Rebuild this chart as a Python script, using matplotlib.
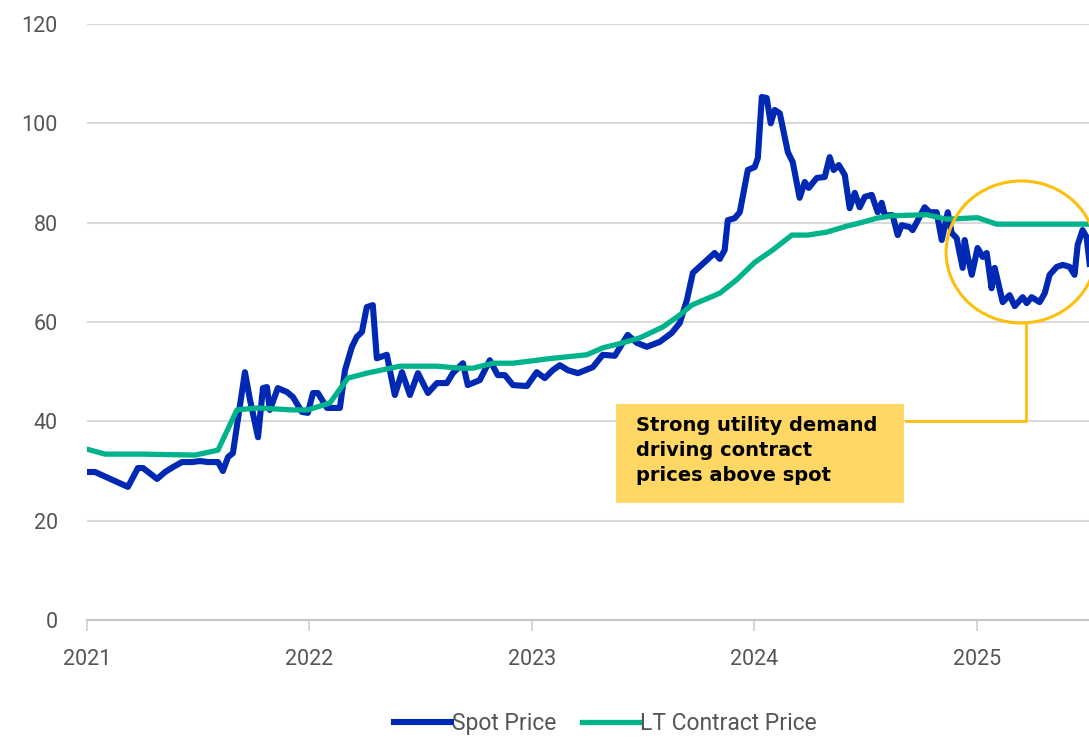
import matplotlib
matplotlib.use("Agg")
from matplotlib import pyplot as plt
from matplotlib.patches import Ellipse, Rectangle

# spot price, decimal year / USD per lb
spot_x = [2021.000, 2021.036, 2021.184, 2021.229, 2021.252, 2021.315, 2021.351, 2021.387, 2021.427, 2021.472,
          2021.508, 2021.544, 2021.589, 2021.611, 2021.634, 2021.656, 2021.710, 2021.733, 2021.769, 2021.791,
          2021.809, 2021.822, 2021.858, 2021.899, 2021.926, 2021.966, 2021.993, 2022.016, 2022.038, 2022.079,
          2022.137, 2022.160, 2022.191, 2022.213, 2022.236, 2022.258, 2022.285, 2022.303, 2022.348, 2022.384,
          2022.416, 2022.452, 2022.488, 2022.533, 2022.573, 2022.618, 2022.645, 2022.690, 2022.712, 2022.766,
          2022.811, 2022.847, 2022.879, 2022.915, 2022.978, 2023.022, 2023.058, 2023.094, 2023.126, 2023.162,
          2023.207, 2023.274, 2023.319, 2023.373, 2023.431, 2023.472, 2023.517, 2023.575, 2023.629, 2023.665,
          2023.697, 2023.724, 2023.822, 2023.845, 2023.867, 2023.881, 2023.912, 2023.935, 2023.971, 2024.002,
          2024.016, 2024.034, 2024.056, 2024.074, 2024.092, 2024.115, 2024.151, 2024.173, 2024.204, 2024.227,
          2024.245, 2024.281, 2024.317, 2024.339, 2024.357, 2024.380, 2024.407, 2024.429, 2024.452, 2024.474,
          2024.497, 2024.528, 2024.555, 2024.573, 2024.587, 2024.622, 2024.645, 2024.663, 2024.699, 2024.712,
          2024.766, 2024.789, 2024.820, 2024.843, 2024.870, 2024.888, 2024.910, 2024.937, 2024.946, 2024.960,
          2024.978, 2025.004, 2025.027, 2025.045, 2025.067, 2025.081, 2025.117, 2025.148, 2025.171, 2025.207,
          2025.225, 2025.247, 2025.283, 2025.306, 2025.328, 2025.360, 2025.387, 2025.418, 2025.440, 2025.454,
          2025.476, 2025.494, 2025.508]
spot_y = [29.8, 29.8, 26.8, 30.6, 30.6, 28.4, 29.8, 30.8, 31.8, 31.8,
          32.0, 31.8, 31.8, 30.0, 32.8, 33.6, 49.9, 44.3, 36.8, 46.7,
          46.9, 42.3, 46.7, 45.9, 44.9, 41.9, 41.7, 45.7, 45.7, 42.7,
          42.7, 50.3, 55.0, 57.0, 58.0, 63.0, 63.4, 52.7, 53.4, 45.3,
          49.9, 45.3, 49.7, 45.7, 47.7, 47.7, 49.7, 51.7, 47.3, 48.3,
          52.3, 49.3, 49.3, 47.3, 47.1, 49.9, 48.7, 50.3, 51.3, 50.3,
          49.7, 50.9, 53.4, 53.2, 57.4, 55.8, 55.0, 56.0, 57.8, 59.8,
          64.4, 69.9, 73.9, 72.7, 74.5, 80.5, 80.9, 82.1, 90.6, 91.2,
          93.0, 105.3, 105.1, 100.0, 102.7, 102.0, 94.2, 92.2, 85.0, 88.2,
          87.0, 89.0, 89.2, 93.2, 90.6, 91.6, 89.6, 82.9, 86.0, 83.1,
          85.2, 85.6, 82.1, 84.0, 81.5, 81.5, 77.5, 79.5, 79.1, 78.5,
          83.1, 82.1, 82.1, 76.5, 82.1, 77.9, 76.9, 70.9, 76.5, 73.1,
          69.5, 74.9, 73.1, 73.9, 66.8, 70.9, 64.0, 65.4, 63.2, 65.0,
          63.8, 65.0, 64.0, 65.8, 69.5, 71.1, 71.5, 71.1, 69.5, 75.5,
          78.5, 77.1, 71.7]

# long-term contract price
lt_x = [2021.000, 2021.081, 2021.247, 2021.485, 2021.589, 2021.674, 2021.769, 2021.921, 2021.993, 2022.092,
        2022.173, 2022.258, 2022.407, 2022.573, 2022.676, 2022.735, 2022.825, 2022.915, 2023.094, 2023.247,
        2023.319, 2023.409, 2023.485, 2023.589, 2023.665, 2023.719, 2023.845, 2023.921, 2024.002, 2024.083,
        2024.169, 2024.240, 2024.326, 2024.416, 2024.488, 2024.551, 2024.622, 2024.775, 2024.865, 2025.004,
        2025.090, 2025.508]
lt_y = [34.4, 33.4, 33.4, 33.2, 34.2, 42.3, 42.7, 42.3, 42.3, 43.7,
        48.7, 49.7, 51.1, 51.1, 50.7, 50.7, 51.7, 51.7, 52.7, 53.4,
        54.8, 55.8, 56.8, 59.0, 61.4, 63.4, 65.8, 68.5, 72.0, 74.5,
        77.5, 77.5, 78.1, 79.3, 80.1, 80.9, 81.4, 81.6, 80.7, 81.0,
        79.7, 79.7]

years = [2021, 2022, 2023, 2024, 2025]
y_ticks = [0, 20, 40, 60, 80, 100, 120]
note = "Strong utility demand\ndriving contract\nprices above spot"

BLUE = "#0029B3"
GREEN = "#00B38A"
GOLD = "#FFBE0B"
BOX = "#FFD55C"

plt.rcParams['font.family'] = ['Roboto', 'DejaVu Sans']

fig = plt.figure(figsize=(10.89, 7.38), dpi=100)
ax = fig.add_axes([87 / 1089, 118 / 738, 1002 / 1089, 596 / 738])

ax.plot(spot_x, spot_y, color=BLUE, lw=4.4, solid_joinstyle='round', label='Spot Price', zorder=3)
ax.plot(lt_x, lt_y, color=GREEN, lw=3.8, solid_joinstyle='round', label='LT Contract Price', zorder=4)

ax.set_xlim(2021.0, 2025.505)
ax.set_ylim(0, 120)
ax.set_xticks(years)
ax.set_xticklabels([str(y) for y in years])
ax.set_yticks(y_ticks)
ax.grid(axis='y', color='#D9D9D9', lw=1.5)
ax.set_axisbelow(True)
for s in ['top', 'right', 'left']:
    ax.spines[s].set_visible(False)
ax.spines['bottom'].set_color('#C8C8C8')
ax.spines['bottom'].set_linewidth(1.5)
ax.tick_params(axis='x', length=8, width=1.2, color='#D0D0D0', pad=13, labelsize=15.5, labelcolor='#555555')
ax.tick_params(axis='y', length=0, pad=21, labelsize=15.5, labelcolor='#555555')

# callout
ax.add_patch(Ellipse((2025.20, 74.1), 0.675, 28.6, fill=False, ec=GOLD, lw=2.2, zorder=5, clip_on=False))
ax.plot([2025.22, 2025.22, 2024.68], [59.8, 40.1, 40.1], color=GOLD, lw=2.0, zorder=5, clip_on=False)
ax.add_patch(Rectangle((2023.38, 23.5), 1.295, 20.0, fc=BOX, ec='none', alpha=0.95, zorder=6))
ax.text(2023.47, 41.0, note, fontsize=14, fontweight='bold', family=['DejaVu Sans'],
        color='black', va='top', ha='left', linespacing=1.38, zorder=7)

fig.legend(loc='center', bbox_to_anchor=(0.556, 0.019), ncol=2, frameon=False, fontsize=16.5,
           handlelength=2.5, handletextpad=0.05, columnspacing=1.1, labelcolor='#555555')

fig.savefig('out.png', dpi=100)
